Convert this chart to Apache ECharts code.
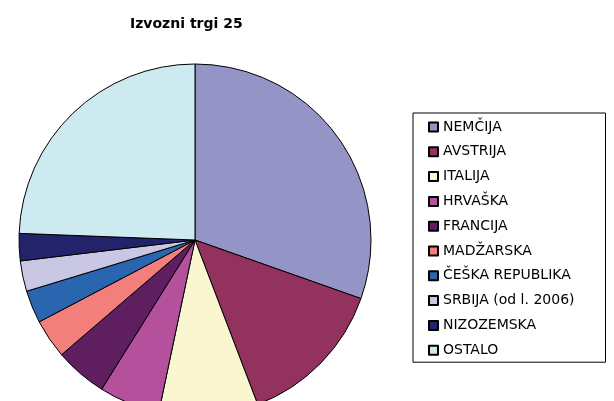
<!DOCTYPE html>
<html>
<head>
<meta charset="utf-8">
<script src="https://cdn.jsdelivr.net/npm/echarts@6/dist/echarts.min.js"></script>
<style>
  html, body { margin: 0; padding: 0; background: #fff; }
  #chart { width: 614px; height: 401px; }
</style>
</head>
<body>
<div id="chart"></div>
<script>
// izvozni trgi, delež v % (odčitano s slike)
const countries = ['NEMČIJA', 'AVSTRIJA', 'ITALIJA', 'HRVAŠKA', 'FRANCIJA', 'MADŽARSKA',
  'ČEŠKA REPUBLIKA', 'SRBIJA (od l. 2006)', 'NIZOZEMSKA', 'OSTALO'];
const shares = [30.4, 13.8, 9.1, 5.6, 4.8, 3.6, 3.0, 2.8, 2.5, 24.4];
const colors = ['#9494c6', '#93325f', '#faf7d0', '#b4509c', '#5e1e60', '#f27f7c',
  '#2a66b0', '#c9c7e3', '#23236b', '#cdeaf0'];

const myChart = echarts.init(document.getElementById('chart'));

const option = {
  animation: false,
  color: colors,
  title: {
    text: 'Izvozni trgi 25',
    left: 125,
    top: 12,
    textStyle: {
      fontFamily: 'DejaVu Sans',
      fontSize: 14,
      fontWeight: 'bold',
      color: '#000'
    }
  },
  legend: {
    orient: 'vertical',
    left: 413,
    top: 113,
    borderColor: '#000',
    borderWidth: 1,
    padding: [7, 31, 5, 15],
    itemWidth: 9,
    itemHeight: 9,
    itemGap: 10.8,
    icon: 'rect',
    selectedMode: false,
    textStyle: {
      fontFamily: 'DejaVu Sans',
      fontSize: 14,
      lineHeight: 14,
      color: '#000'
    },
    data: countries
  },
  series: [{
    type: 'pie',
    center: [195, 240],
    radius: 176,
    startAngle: 90,
    clockwise: true,
    label: { show: false },
    labelLine: { show: false },
    emphasis: { disabled: true },
    itemStyle: {
      borderColor: '#000',
      borderWidth: 1
    },
    data: countries.map((name, i) => ({ name: name, value: shares[i] }))
  }]
};
myChart.setOption(option);
</script>
</body>
</html>
